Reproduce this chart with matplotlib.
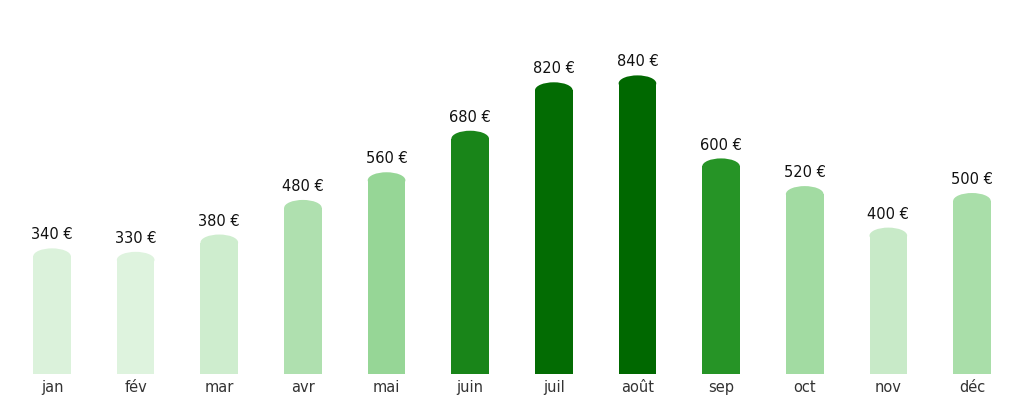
import numpy as np
import matplotlib
matplotlib.use("Agg")
from matplotlib import pyplot as plt
from matplotlib.patches import Ellipse
from matplotlib.colors import LinearSegmentedColormap, Normalize

plt.rcParams["font.family"] = ["DejaVu Sans"]

# monthly amounts, euros
months = ["jan", "fév", "mar", "avr", "mai", "juin", "juil", "août", "sep", "oct", "nov", "déc"]
amounts = [340, 330, 380, 480, 560, 680, 820, 840, 600, 520, 400, 500]

# two shades: light greens for the lower months, strong greens for the peak
light = LinearSegmentedColormap.from_list("light", ["#def3de", "#96d696"])
dark = LinearSegmentedColormap.from_list("dark", ["#269426", "#006800"])
light_norm = Normalize(330, 560)
dark_norm = Normalize(600, 840)
split = 590


def bar_color(v):
    if v < split:
        return light(light_norm(v))
    return dark(dark_norm(v))


fig = plt.figure(figsize=(10.24, 4.04), dpi=100)
ax = fig.add_axes([0.01, 30 / 404, 0.98, 374 / 404])

width = 0.45
x = np.arange(len(months))
colors = [bar_color(v) for v in amounts]
ax.bar(x, amounts, width=width, color=colors, zorder=2)

ax.set_xlim(-0.5, len(months) - 0.5)
ax.set_ylim(0, 1081)

# rounded caps on top of each bar
cap_h = 16 / 0.346  # ~16 px tall
for xi, v, c in zip(x, amounts, colors):
    ax.add_patch(Ellipse((xi, v), width, cap_h, color=c, lw=0, zorder=2))
    ax.annotate(f"{v} €", (xi, v), xytext=(0, 10), textcoords="offset points",
                ha="center", va="bottom", fontsize=10.5, color="#111111")

ax.set_xticks(x)
ax.set_xticklabels(months, fontsize=10.5, color="#333333")
ax.tick_params(axis="x", length=0, pad=4)
ax.set_yticks([])
for s in ax.spines.values():
    s.set_visible(False)

fig.savefig("out.png", dpi=100)
